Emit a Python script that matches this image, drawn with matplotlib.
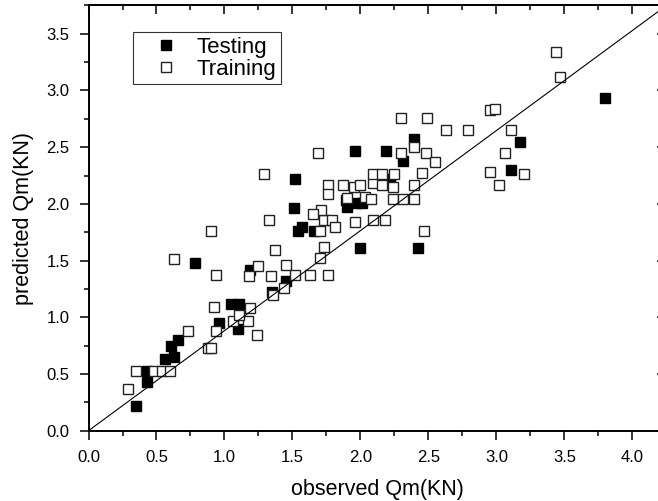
import matplotlib
matplotlib.use("Agg")
import matplotlib.pyplot as plt
from matplotlib.ticker import MultipleLocator

plt.rcParams['font.family'] = ['Liberation Sans', 'DejaVu Sans']

# testing set: observed vs predicted Qm (KN)
test_observed = [0.35, 0.43, 0.43, 0.56, 0.63, 0.61, 0.66, 0.96, 1.10, 1.05,
                 1.11, 1.19, 1.35, 1.45, 0.78, 1.54, 1.57, 1.66, 1.51, 1.52,
                 1.89, 1.90, 1.97, 2.01, 2.00, 2.42, 1.96, 2.19, 2.22, 2.31,
                 2.39, 3.17, 3.11, 3.80]
test_predicted = [0.22, 0.43, 0.53, 0.63, 0.65, 0.75, 0.80, 0.95, 0.90, 1.12,
                  1.12, 1.42, 1.22, 1.32, 1.48, 1.76, 1.80, 1.76, 1.96, 2.22,
                  2.03, 1.97, 2.01, 2.01, 1.61, 1.61, 2.47, 2.47, 2.22, 2.38,
                  2.57, 2.55, 2.30, 2.93]

# training set
train_observed = [0.29, 0.35, 0.48, 0.54, 0.60, 0.73, 0.88, 0.90, 0.94, 1.06,
                  1.17, 1.11, 1.19, 0.92, 1.24, 0.63, 0.94, 0.90, 1.25, 1.18,
                  1.34, 1.45, 1.52, 1.63, 1.76, 1.44, 1.36, 1.29, 1.33, 1.37,
                  1.73, 1.70, 1.70, 1.73, 1.79, 1.81, 1.96, 2.09, 2.18, 2.47,
                  1.71, 1.65, 1.76, 1.76, 1.87, 1.95, 2.00, 2.09, 2.16, 2.24,
                  2.39, 1.90, 2.03, 2.08, 2.24, 2.31, 2.39, 2.09, 2.16, 2.25,
                  2.45, 1.69, 2.30, 2.48, 2.55, 2.39, 2.30, 2.49, 2.63, 2.79,
                  3.11, 2.95, 2.99, 3.06, 2.95, 3.20, 3.02, 3.44, 3.47]
train_predicted = [0.37, 0.53, 0.53, 0.53, 0.53, 0.88, 0.73, 0.73, 0.88, 0.97,
                   0.97, 1.02, 1.08, 1.09, 0.84, 1.51, 1.37, 1.76, 1.45, 1.36,
                   1.36, 1.46, 1.37, 1.37, 1.37, 1.26, 1.20, 2.26, 1.86, 1.59,
                   1.62, 1.52, 1.76, 1.86, 1.86, 1.80, 1.84, 1.86, 1.86, 1.76,
                   1.95, 1.91, 2.17, 2.09, 2.17, 2.15, 2.17, 2.18, 2.17, 2.15,
                   2.17, 2.05, 2.06, 2.04, 2.04, 2.04, 2.04, 2.26, 2.26, 2.26,
                   2.27, 2.45, 2.45, 2.45, 2.37, 2.50, 2.76, 2.76, 2.65, 2.65,
                   2.65, 2.83, 2.84, 2.45, 2.28, 2.26, 2.17, 3.34, 3.12]

x_max, y_max = 4.25, 3.75

fig = plt.figure(figsize=(6.58, 5.01), dpi=100)
ax = fig.add_axes([0.1345, 0.1403, 0.8784, 0.8489])

ax.plot(test_observed, test_predicted, 's', ms=6.8, mfc='black', mec='black',
        mew=1.0, ls='none', label='Testing', zorder=2)
ax.plot(train_observed, train_predicted, 's', ms=6.8, mfc='white', mec='#222222',
        mew=1.0, ls='none', label='Training', zorder=2)

# corner-to-corner reference line
ax.plot([0, x_max], [0, y_max], color='black', lw=0.8, zorder=3)

ax.set_xlim(0, x_max)
ax.set_ylim(0, y_max)
ax.xaxis.set_major_locator(MultipleLocator(0.5))
ax.xaxis.set_minor_locator(MultipleLocator(0.25))
ax.yaxis.set_major_locator(MultipleLocator(0.5))
ax.yaxis.set_minor_locator(MultipleLocator(0.25))
ax.xaxis.set_major_formatter('{x:.1f}')
ax.yaxis.set_major_formatter('{x:.1f}')

for sp in ax.spines.values():
    sp.set_linewidth(1.4)
ax.tick_params(which='both', direction='out', width=1.1, labelsize=12, pad=7)
ax.tick_params(which='major', length=6.8)
ax.tick_params(which='minor', length=3.3)

# inward ticks on the top and right borders
top = ax.secondary_xaxis('top')
right = ax.secondary_yaxis('right')
for sec, axis in ((top, top.xaxis), (right, right.yaxis)):
    axis.set_major_locator(MultipleLocator(0.5))
    axis.set_minor_locator(MultipleLocator(0.25))
    sec.tick_params(which='both', direction='in', width=1.1,
                    labeltop=False, labelright=False)
    sec.tick_params(which='major', length=6.8)
    sec.tick_params(which='minor', length=3.3)
    for sp in sec.spines.values():
        sp.set_linewidth(1.4)

ax.set_xlabel('observed Qm(KN)', fontsize=15.5, labelpad=10)
ax.set_ylabel('predicted Qm(KN)', fontsize=15.5, labelpad=9)

leg = ax.legend(loc='upper left', bbox_to_anchor=(0.0765, 0.937), borderaxespad=0,
                fontsize=16, frameon=True, fancybox=False, edgecolor='black',
                borderpad=0.22, labelspacing=0.02, handlelength=2.6,
                handletextpad=0.05)
leg.get_frame().set_linewidth(0.8)

fig.savefig('out.png', dpi=100)
